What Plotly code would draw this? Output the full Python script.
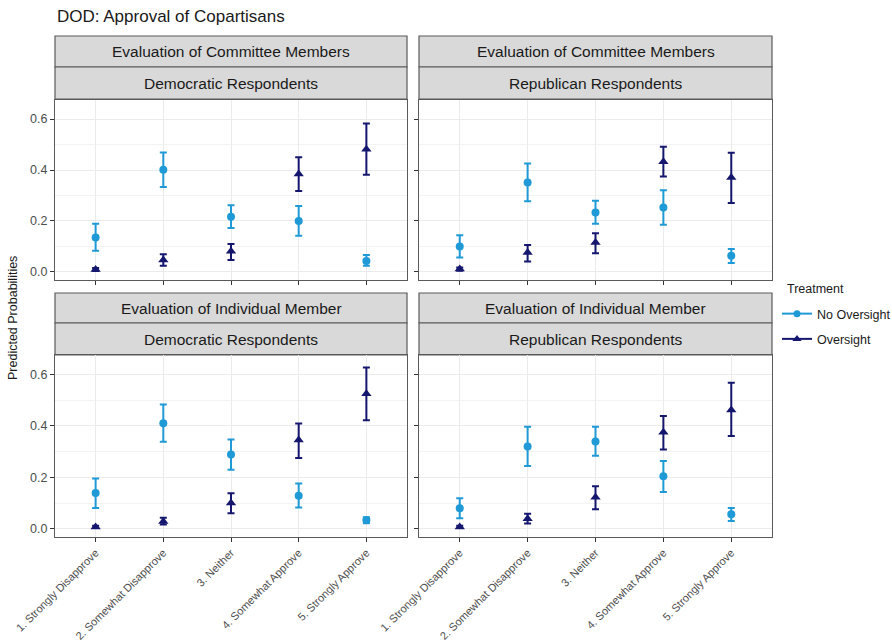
import plotly.graph_objects as go

W, H = 892, 641

categories = ["1. Strongly Disapprove", "2. Somewhat Disapprove", "3. Neither",
              "4. Somewhat Approve", "5. Strongly Approve"]
cat_pos = [1, 2, 3, 4, 5]

# Panel: Committee Members, Democratic Respondents
cd_no_est = [0.135, 0.401, 0.216, 0.200, 0.043]
cd_no_hi = [0.189, 0.469, 0.262, 0.259, 0.066]
cd_no_lo = [0.083, 0.333, 0.172, 0.142, 0.024]
cd_ov_est = [0.009, 0.047, 0.081, 0.384, 0.482]
cd_ov_hi = [0.015, 0.069, 0.109, 0.450, 0.583]
cd_ov_lo = [0.003, 0.024, 0.047, 0.318, 0.381]

# Panel: Committee Members, Republican Respondents
cr_no_est = [0.100, 0.351, 0.233, 0.253, 0.063]
cr_no_hi = [0.144, 0.426, 0.279, 0.321, 0.090]
cr_no_lo = [0.056, 0.277, 0.189, 0.185, 0.035]
cr_ov_est = [0.011, 0.076, 0.115, 0.432, 0.371]
cr_ov_hi = [0.017, 0.105, 0.152, 0.491, 0.468]
cr_ov_lo = [0.004, 0.041, 0.073, 0.375, 0.270]

# Panel: Individual Member, Democratic Respondents
id_no_est = [0.139, 0.410, 0.288, 0.128, 0.034]
id_no_hi = [0.195, 0.483, 0.347, 0.176, 0.045]
id_no_lo = [0.081, 0.338, 0.229, 0.083, 0.021]
id_ov_est = [0.007, 0.028, 0.100, 0.345, 0.524]
id_ov_hi = [0.012, 0.043, 0.138, 0.409, 0.626]
id_ov_lo = [0.003, 0.017, 0.060, 0.275, 0.422]

# Panel: Individual Member, Republican Respondents
ir_no_est = [0.080, 0.320, 0.339, 0.204, 0.056]
ir_no_hi = [0.119, 0.396, 0.396, 0.263, 0.081]
ir_no_lo = [0.041, 0.244, 0.284, 0.143, 0.030]
ir_ov_est = [0.007, 0.039, 0.122, 0.375, 0.461]
ir_ov_hi = [0.012, 0.058, 0.165, 0.438, 0.567]
ir_ov_lo = [0.003, 0.020, 0.076, 0.308, 0.360]

strip_top = ["Evaluation of Committee Members", "Evaluation of Committee Members",
             "Evaluation of Individual Member", "Evaluation of Individual Member"]
strip_bottom = ["Democratic Respondents", "Republican Respondents",
                "Democratic Respondents", "Republican Respondents"]
y_ticks = [0.0, 0.2, 0.4, 0.6]
y_tick_text = ["0.0", "0.2", "0.4", "0.6"]

panels = [
    (cd_no_est, cd_no_hi, cd_no_lo, cd_ov_est, cd_ov_hi, cd_ov_lo),
    (cr_no_est, cr_no_hi, cr_no_lo, cr_ov_est, cr_ov_hi, cr_ov_lo),
    (id_no_est, id_no_hi, id_no_lo, id_ov_est, id_ov_hi, id_ov_lo),
    (ir_no_est, ir_no_hi, ir_no_lo, ir_ov_est, ir_ov_hi, ir_ov_lo),
]

COL_NO = "#1f9ad6"
COL_OV = "#15166e"
FONT = "Liberation Sans, Arial, sans-serif"
BORDER = "#5a5a5a"

# panel pixel boxes (left, right, top, bottom) and strip tops
xpix = [(55, 407), (419, 772)]
ypix = [(100, 280), (355, 537)]
strip_pix = [(36, 67, 99), (293, 323, 355)]

def px(x):
    return x / W

def py(y):
    return 1 - y / H

fig = go.Figure()
layout = {}
shapes = []
annotations = []

for i, p in enumerate(panels):
    r, c = divmod(i, 2)
    n = i + 1
    xa = "x" if n == 1 else f"x{n}"
    ya = "y" if n == 1 else f"y{n}"
    no_est, no_hi, no_lo, ov_est, ov_hi, ov_lo = p
    fig.add_trace(go.Scatter(
        x=cat_pos, y=no_est, mode="markers", xaxis=xa, yaxis=ya,
        marker=dict(color=COL_NO, size=8, symbol="circle"),
        error_y=dict(type="data", symmetric=False,
                     array=[h - e for h, e in zip(no_hi, no_est)],
                     arrayminus=[e - l for e, l in zip(no_est, no_lo)],
                     color=COL_NO, thickness=2, width=3.5),
        showlegend=False, name="No Oversight"))
    fig.add_trace(go.Scatter(
        x=cat_pos, y=ov_est, mode="markers", xaxis=xa, yaxis=ya,
        marker=dict(color=COL_OV, size=9, symbol="triangle-up"),
        error_y=dict(type="data", symmetric=False,
                     array=[h - e for h, e in zip(ov_hi, ov_est)],
                     arrayminus=[e - l for e, l in zip(ov_est, ov_lo)],
                     color=COL_OV, thickness=2, width=3.5),
        showlegend=False, name="Oversight"))

    xl, xr = xpix[c]
    yt, yb = ypix[r]
    kx = "xaxis" if n == 1 else f"xaxis{n}"
    ky = "yaxis" if n == 1 else f"yaxis{n}"
    layout[kx] = dict(
        domain=[px(xl), px(xr)], anchor=ya, range=[0.4, 5.6],
        tickmode="array", tickvals=cat_pos,
        ticktext=categories if r == 1 else [""] * 5,
        showticklabels=(r == 1), tickangle=-45, automargin=False,
        tickfont=dict(family=FONT, size=11, color="#4d4d4d"),
        ticks="outside", ticklen=4, tickcolor="#333333",
        showgrid=True, gridcolor="#ebebeb", gridwidth=1.2,
        showline=True, mirror=True, linecolor=BORDER, linewidth=1.2,
        zeroline=False, fixedrange=True)
    layout[ky] = dict(
        domain=[py(yb), py(yt)], anchor=xa, range=[-0.032, 0.675],
        tickmode="array", tickvals=y_ticks, ticktext=y_tick_text,
        showticklabels=(c == 0), automargin=False,
        tickfont=dict(family=FONT, size=12.5, color="#4d4d4d"),
        ticks="outside", ticklen=4, tickcolor="#333333",
        showgrid=True, gridcolor="#ebebeb", gridwidth=1.2,
        minor=dict(tickvals=[0.1, 0.3, 0.5], showgrid=True,
                   gridcolor="#f3f3f3", gridwidth=0.8, ticks=""),
        showline=True, mirror=True, linecolor=BORDER, linewidth=1.2,
        zeroline=False, fixedrange=True)

    # strips
    s1, s2, s3 = strip_pix[r]
    for (ta, tb, txt) in [(s1, s2, strip_top[i]), (s2, s3, strip_bottom[i])]:
        shapes.append(dict(type="rect", xref="paper", yref="paper",
                           x0=px(xl), x1=px(xr), y0=py(tb), y1=py(ta),
                           fillcolor="#d9d9d9", line=dict(color=BORDER, width=1.2),
                           layer="below"))
        annotations.append(dict(text=txt, xref="paper", yref="paper",
                                x=px((xl + xr) / 2), y=py((ta + tb) / 2),
                                xanchor="center", yanchor="middle", showarrow=False,
                                font=dict(family=FONT, size=15.5, color="#1a1a1a")))

# legend dummy traces
fig.add_trace(go.Scatter(x=[None], y=[None], mode="lines+markers", name="No Oversight",
                         legendgroup="a",
                         line=dict(color=COL_NO, width=2),
                         marker=dict(color=COL_NO, size=7, symbol="circle")))
fig.add_trace(go.Scatter(x=[None], y=[None], mode="lines+markers", name="Oversight",
                         legendgroup="b",
                         line=dict(color=COL_OV, width=2),
                         marker=dict(color=COL_OV, size=8, symbol="triangle-up")))

annotations.append(dict(text="DOD: Approval of Copartisans", xref="paper", yref="paper",
                        x=px(55), y=py(16), xanchor="left", yanchor="middle",
                        showarrow=False, font=dict(family=FONT, size=17, color="#1a1a1a")))
annotations.append(dict(text="Predicted Probabilities", xref="paper", yref="paper",
                        x=px(13), y=py(318), xanchor="center", yanchor="middle",
                        textangle=-90, showarrow=False,
                        font=dict(family=FONT, size=12.5, color="#1a1a1a")))
annotations.append(dict(text="Treatment", xref="paper", yref="paper",
                        x=px(785), y=py(289), xanchor="left", yanchor="middle",
                        showarrow=False, font=dict(family=FONT, size=12.5, color="#1a1a1a")))

fig.update_layout(
    template="none",
    width=W, height=H, margin=dict(l=0, r=0, t=0, b=0, autoexpand=False),
    paper_bgcolor="white", plot_bgcolor="white",
    shapes=shapes, annotations=annotations,
    legend=dict(x=px(777), y=py(299), xanchor="left", yanchor="top",
                font=dict(family=FONT, size=12.5, color="#1a1a1a"),
                traceorder="grouped", tracegroupgap=6,
                bgcolor="rgba(0,0,0,0)", itemwidth=30),
    **layout)

fig.write_html("out.html", config={"displayModeBar": False},
               post_script="document.body.style.margin='0px';")
